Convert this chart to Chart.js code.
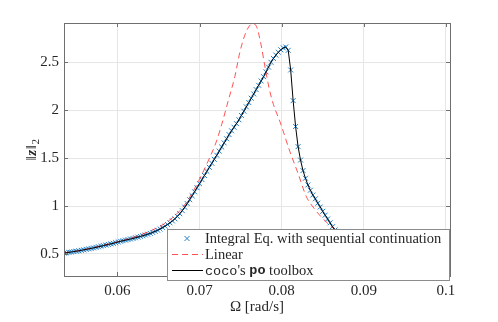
<!DOCTYPE html>
<html>
<head>
<meta charset="utf-8">
<script src="https://cdn.jsdelivr.net/npm/chart.js@4.4.0/dist/chart.umd.min.js"></script>
<style>
  html, body { margin: 0; padding: 0; background: #fff; }
  #wrap { width: 498px; height: 322px; }
</style>
</head>
<body>
<div id="wrap"><canvas id="freqChart" width="498" height="322"></canvas></div>
<script>
// Omega [rad/s] -> ||z||_2, integral-equation continuation (same branch as coco po)
const omegaIE = [
  0.0535, 0.0538, 0.0541, 0.0544, 0.0547, 0.0550, 0.0553, 0.0556, 0.0559, 0.0562,
  0.0565, 0.0568, 0.0571, 0.0574, 0.0577, 0.0580, 0.0583, 0.0586, 0.0589, 0.0592,
  0.0595, 0.0598, 0.0601, 0.0604, 0.0607, 0.0610, 0.0613, 0.0616, 0.0619, 0.0622,
  0.0625, 0.0628, 0.0631, 0.0634, 0.0637, 0.0640, 0.0643, 0.0646, 0.0649, 0.0652,
  0.0655, 0.0658, 0.0661, 0.0664, 0.0667, 0.0670, 0.0673, 0.0676, 0.0679, 0.0682,
  0.0685, 0.0688, 0.0691, 0.0694, 0.0697, 0.0700, 0.0703, 0.0706, 0.0709, 0.0712,
  0.0715, 0.0718, 0.0721, 0.0724, 0.0727, 0.0730, 0.0733, 0.0736, 0.0739, 0.0742,
  0.0745, 0.0748, 0.0751, 0.0754, 0.0757, 0.0760, 0.0763, 0.0766, 0.0769, 0.0772,
  0.0775, 0.0778, 0.0781, 0.0784, 0.0787, 0.0790, 0.0793, 0.0796, 0.0799, 0.0802,
  0.0805, 0.0808, 0.0811, 0.0814, 0.0817, 0.0820, 0.0823, 0.0826, 0.0829, 0.0832,
  0.0835, 0.0838, 0.0841, 0.0844, 0.0847, 0.0850, 0.0853, 0.0856, 0.0859, 0.0862,
  0.0865, 0.0868, 0.0871, 0.0874, 0.0880, 0.0900, 0.0930, 0.0960, 0.1000
];
const normIE = [
  0.510, 0.513, 0.517, 0.521, 0.525, 0.529, 0.533, 0.538, 0.543, 0.548,
  0.553, 0.558, 0.563, 0.569, 0.575, 0.581, 0.587, 0.593, 0.599, 0.605,
  0.611, 0.618, 0.626, 0.632, 0.638, 0.644, 0.650, 0.656, 0.662, 0.669,
  0.676, 0.683, 0.690, 0.698, 0.706, 0.715, 0.725, 0.736, 0.748, 0.761,
  0.775, 0.790, 0.807, 0.825, 0.845, 0.867, 0.892, 0.920, 0.952, 0.988,
  1.026, 1.066, 1.107, 1.149, 1.191, 1.233, 1.276, 1.319, 1.362, 1.404,
  1.446, 1.488, 1.530, 1.573, 1.616, 1.659, 1.702, 1.745, 1.785, 1.822,
  1.860, 1.900, 1.945, 1.990, 2.035, 2.080, 2.125, 2.170, 2.215, 2.260,
  2.305, 2.350, 2.400, 2.450, 2.500, 2.540, 2.575, 2.605, 2.630, 2.650,
  2.660, 2.625, 2.420, 2.100, 1.830, 1.620, 1.480, 1.370, 1.290, 1.220,
  1.165, 1.115, 1.075, 1.030, 0.990, 0.945, 0.905, 0.865, 0.825, 0.785,
  0.750, 0.720, 0.690, 0.665, 0.630, 0.550, 0.470, 0.420, 0.370
];

// linear response
const omegaLin = [
  0.0535, 0.056, 0.058, 0.060, 0.062, 0.064, 0.065, 0.066, 0.067, 0.068,
  0.069, 0.070, 0.071, 0.072, 0.0727, 0.0735, 0.0743, 0.0749, 0.0755, 0.076,
  0.0765, 0.077, 0.0775, 0.078, 0.0785, 0.079, 0.0798, 0.081, 0.082, 0.083,
  0.084, 0.085, 0.086, 0.088, 0.090, 0.095, 0.100
];
const normLin = [
  0.51, 0.545, 0.585, 0.627, 0.675, 0.74, 0.78, 0.83, 0.90, 0.99,
  1.12, 1.28, 1.46, 1.66, 1.85, 2.10, 2.35, 2.60, 2.78, 2.87,
  2.905, 2.86, 2.68, 2.44, 2.22, 2.06, 1.88, 1.57, 1.34, 1.10,
  0.97, 0.87, 0.79, 0.66, 0.57, 0.44, 0.36
];

const xTicks = [0.06, 0.07, 0.08, 0.09, 0.1];
const xTickLabels = ['0.06', '0.07', '0.08', '0.09', '0.1'];
const yTicks = [0.5, 1, 1.5, 2, 2.5];
const yTickLabels = ['0.5', '1', '1.5', '2', '2.5'];
const seriesNames = ['Integral Eq. with sequential continuation', 'Linear', "coco's po toolbox"];

const serif = "'Liberation Serif', 'DejaVu Serif', serif";
const axisColor = '#6f6f6f';
const textColor = '#262626';

const toPoints = (xs, ys) => xs.map((x, i) => ({ x: x, y: ys[i] }));

// box round the axes + small inward ticks on all four sides
const axesFrame = {
  id: 'axesFrame',
  afterDatasetsDraw(chart) {
    const { ctx, chartArea: a, scales } = chart;
    ctx.save();
    ctx.strokeStyle = axisColor;
    ctx.lineWidth = 1;
    ctx.beginPath();
    xTicks.forEach(v => {
      const px = Math.round(scales.x.getPixelForValue(v)) + 0.5;
      ctx.moveTo(px, a.bottom); ctx.lineTo(px, a.bottom - 4);
      ctx.moveTo(px, a.top); ctx.lineTo(px, a.top + 4);
    });
    yTicks.forEach(v => {
      const py = Math.round(scales.y.getPixelForValue(v)) + 0.5;
      ctx.moveTo(a.left, py); ctx.lineTo(a.left + 4, py);
      ctx.moveTo(a.right, py); ctx.lineTo(a.right - 4, py);
    });
    ctx.stroke();
    ctx.strokeRect(a.left + 0.5, a.top + 0.5, a.right - a.left, a.bottom - a.top);
    ctx.restore();
  }
};

// y label ||z||_2 with bold z, drawn rotated
const yTitle = {
  id: 'yTitle',
  afterDraw(chart) {
    const ctx = chart.ctx;
    const a = chart.chartArea;
    const parts = [
      { t: '\u2016', f: '15px ' + serif, dy: 0 },
      { t: 'z', f: 'bold italic 15px ' + serif, dy: 0 },
      { t: '\u2016', f: '15px ' + serif, dy: 0 },
      { t: '2', f: '11px ' + serif, dy: 4 }
    ];
    ctx.save();
    ctx.fillStyle = textColor;
    ctx.textBaseline = 'middle';
    let w = 0;
    parts.forEach(p => { ctx.font = p.f; w += ctx.measureText(p.t).width + 0.5; });
    ctx.translate(32, (a.top + a.bottom) / 2);
    ctx.rotate(-Math.PI / 2);
    let cx = -w / 2;
    parts.forEach(p => {
      ctx.font = p.f;
      ctx.fillText(p.t, cx, p.dy);
      cx += ctx.measureText(p.t).width + 0.5;
    });
    ctx.restore();
  }
};

// legend box in the lower right, sits over the curves like the matlab one
const insetLegend = {
  id: 'insetLegend',
  afterDraw(chart) {
    const ctx = chart.ctx;
    const ds = chart.data.datasets;
    const bx = 167.5, by = 229.5, bw = 282, bh = 51;
    ctx.save();
    ctx.fillStyle = '#fff';
    ctx.fillRect(bx, by, bw, bh);
    ctx.strokeStyle = '#8c8c8c';
    ctx.lineWidth = 1;
    ctx.strokeRect(bx, by, bw, bh);

    const rows = [238.5, 254.5, 270.5];
    const x0 = 172, x1 = 203, tx = 205;

    // markers
    const m = ds[2];
    ctx.strokeStyle = m.borderColor;
    ctx.lineWidth = m.borderWidth;
    ctx.beginPath();
    ctx.moveTo(187 - 2.5, rows[0] - 2.5); ctx.lineTo(187 + 2.5, rows[0] + 2.5);
    ctx.moveTo(187 - 2.5, rows[0] + 2.5); ctx.lineTo(187 + 2.5, rows[0] - 2.5);
    ctx.stroke();

    // linear
    const l = ds[1];
    ctx.strokeStyle = l.borderColor;
    ctx.lineWidth = l.borderWidth;
    ctx.setLineDash(l.borderDash);
    ctx.beginPath(); ctx.moveTo(x0, rows[1]); ctx.lineTo(x1, rows[1]); ctx.stroke();
    ctx.setLineDash([]);

    // coco
    const c = ds[0];
    ctx.strokeStyle = c.borderColor;
    ctx.lineWidth = c.borderWidth;
    ctx.beginPath(); ctx.moveTo(x0, rows[2]); ctx.lineTo(x1, rows[2]); ctx.stroke();

    ctx.fillStyle = textColor;
    ctx.textBaseline = 'middle';
    ctx.font = '14.5px ' + serif;
    ctx.fillText(seriesNames[0], tx, rows[0] + 0.5);
    ctx.fillText(seriesNames[1], tx, rows[1] + 0.5);

    const mono = "'Liberation Mono', 'DejaVu Sans Mono', monospace";
    const segs = [
      { t: 'coco', f: '13.5px ' + mono },
      { t: "'s ", f: '14.5px ' + serif },
      { t: 'po', f: 'bold 13.5px ' + mono },
      { t: ' toolbox', f: '14.5px ' + serif }
    ];
    let cx = tx;
    segs.forEach(s => {
      ctx.font = s.f;
      ctx.fillText(s.t, cx, rows[2] + 0.5);
      cx += ctx.measureText(s.t).width;
    });
    ctx.restore();
  }
};

new Chart(document.getElementById('freqChart'), {
  type: 'line',
  data: {
    datasets: [
      {
        label: seriesNames[2],
        data: toPoints(omegaIE, normIE),
        borderColor: '#000000',
        borderWidth: 1,
        pointRadius: 0,
        tension: 0,
        order: 0
      },
      {
        label: seriesNames[1],
        data: toPoints(omegaLin, normLin),
        borderColor: 'rgba(255, 40, 40, 0.8)',
        borderWidth: 1,
        borderDash: [6, 4],
        pointRadius: 0,
        cubicInterpolationMode: 'monotone',
        order: 1
      },
      {
        label: seriesNames[0],
        data: toPoints(omegaIE, normIE),
        showLine: false,
        pointStyle: 'crossRot',
        pointRadius: 3.5,
        borderColor: '#1f7fc8',
        borderWidth: 1,
        order: 2
      }
    ]
  },
  options: {
    responsive: false,
    animation: false,
    devicePixelRatio: 1,
    layout: { padding: { left: 0, right: 48, top: 23, bottom: 0 } },
    plugins: {
      legend: { display: false },
      tooltip: { enabled: false }
    },
    scales: {
      x: {
        type: 'linear',
        min: 0.0535,
        max: 0.1005,
        afterFit: s => { s.height = 46; },
        afterBuildTicks: s => { s.ticks = xTicks.map(v => ({ value: v })); },
        ticks: {
          autoSkip: false,
          maxRotation: 0,
          padding: 6,
          color: textColor,
          font: { family: serif, size: 15 },
          callback: (v, i) => xTickLabels[i]
        },
        grid: { color: '#e6e6e6', drawTicks: false },
        border: { display: false },
        title: {
          display: true,
          text: '\u03A9 [rad/s]',
          color: textColor,
          font: { family: serif, size: 15 },
          padding: { top: 0, bottom: 6 }
        }
      },
      y: {
        type: 'linear',
        min: 0.27,
        max: 2.91,
        afterFit: s => { s.width = 64; },
        afterBuildTicks: s => { s.ticks = yTicks.map(v => ({ value: v })); },
        ticks: {
          autoSkip: false,
          padding: 5,
          color: textColor,
          font: { family: serif, size: 15 },
          callback: (v, i) => yTickLabels[i]
        },
        grid: { color: '#e6e6e6', drawTicks: false },
        border: { display: false }
      }
    }
  },
  plugins: [axesFrame, yTitle, insetLegend]
});
</script>
</body>
</html>
